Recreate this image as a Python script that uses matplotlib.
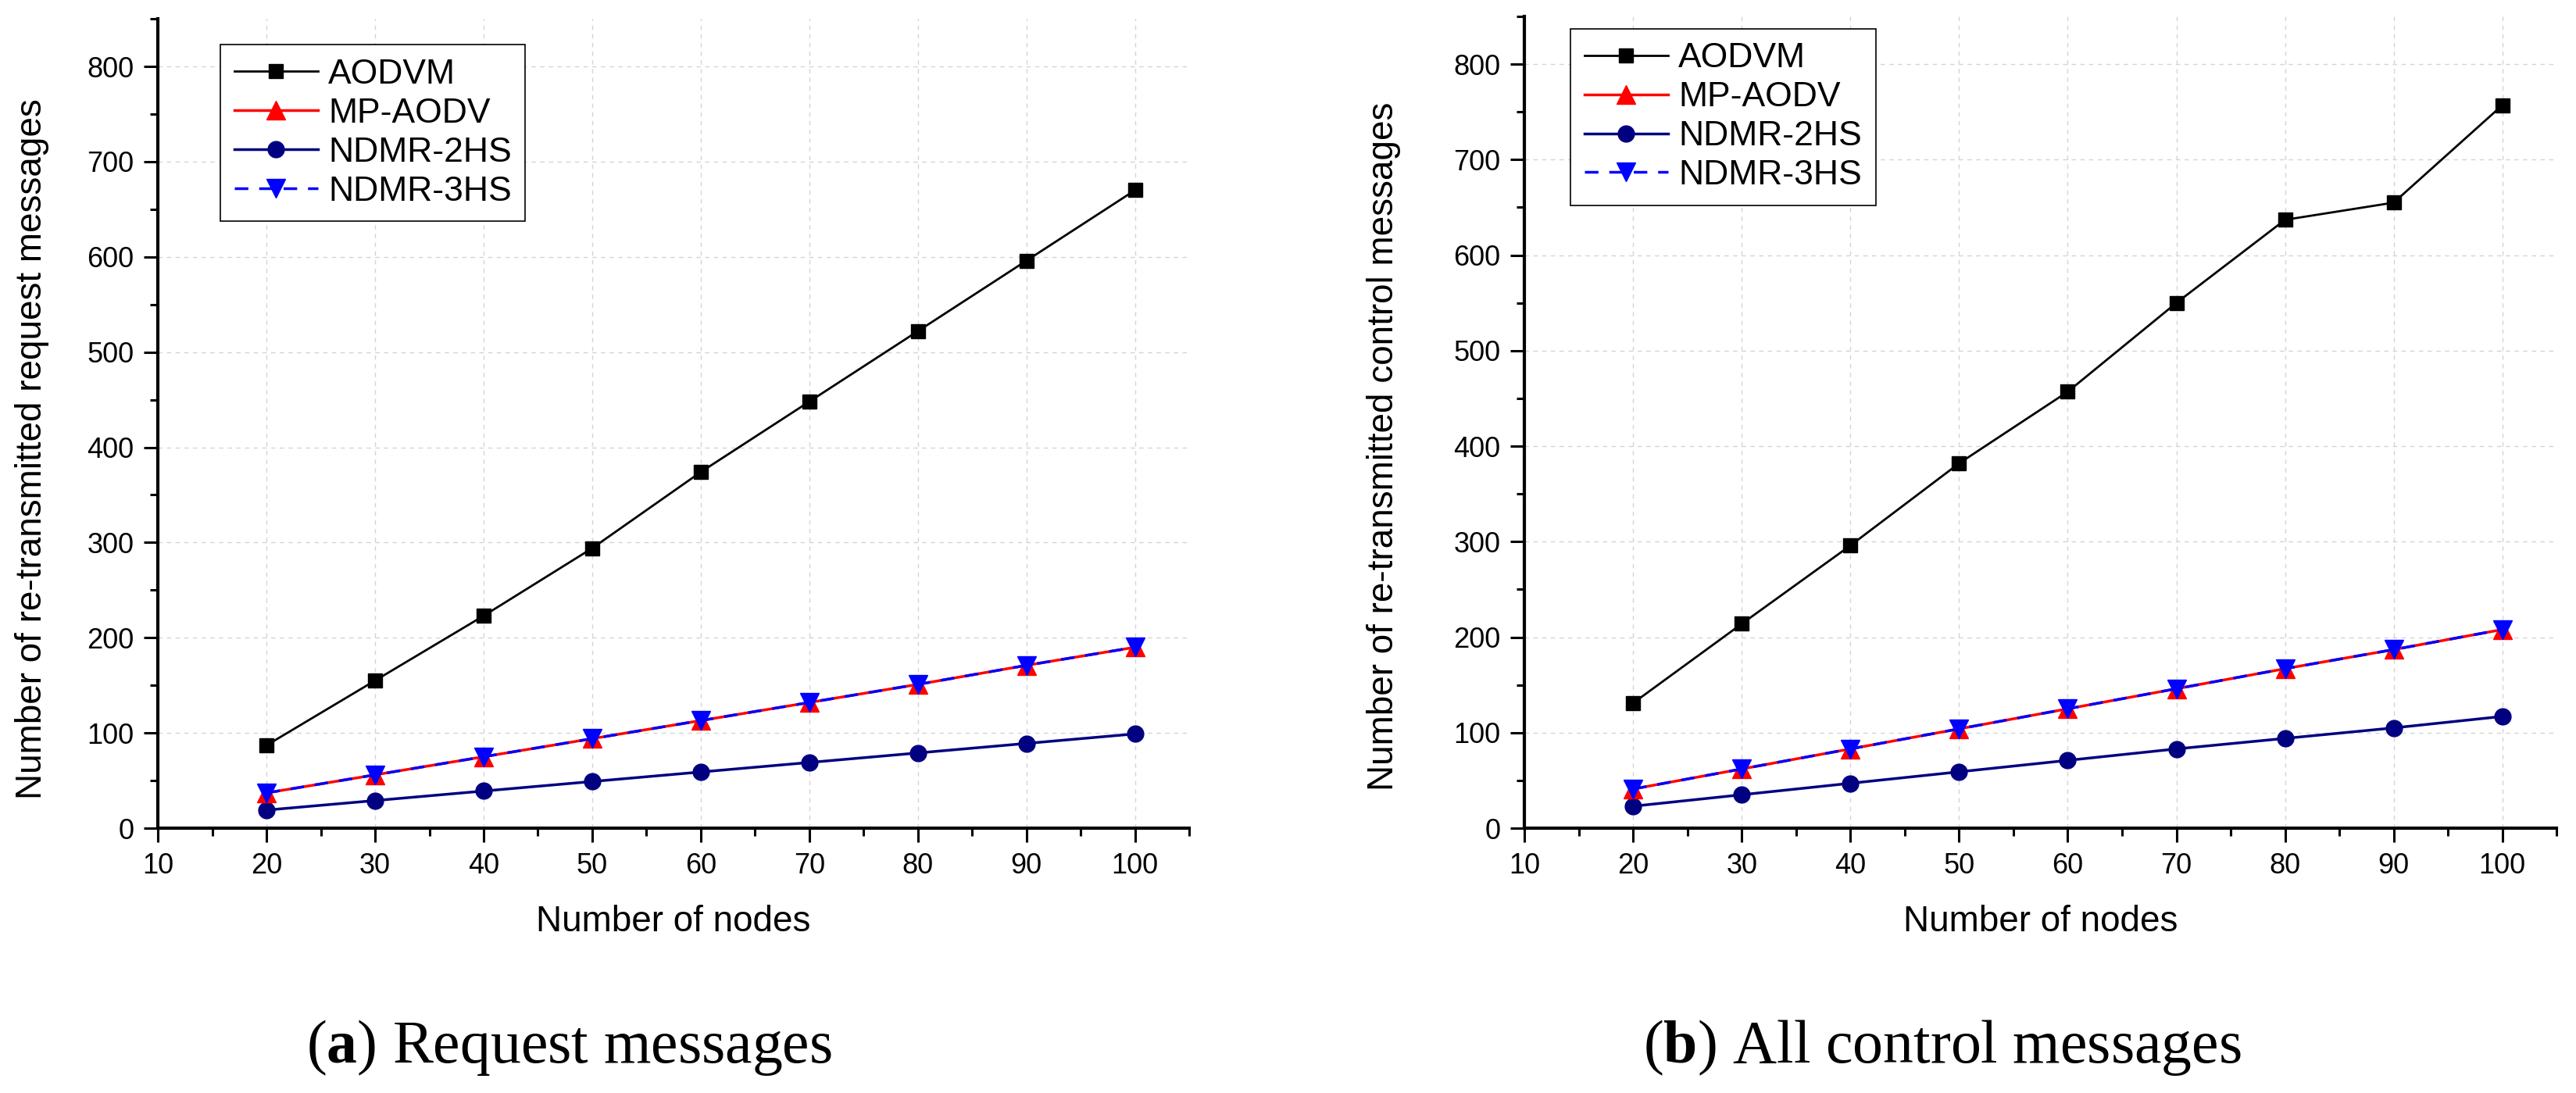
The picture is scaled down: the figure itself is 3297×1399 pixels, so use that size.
import matplotlib
matplotlib.use("Agg")
import matplotlib.pyplot as plt
from matplotlib.ticker import MultipleLocator

plt.rcParams['font.family'] = ['Liberation Sans', 'DejaVu Sans']
plt.rcParams['mathtext.fontset'] = 'custom'
plt.rcParams['mathtext.rm'] = 'Liberation Serif'
plt.rcParams['mathtext.bf'] = 'Liberation Serif:bold'

nodes = [20, 30, 40, 50, 60, 70, 80, 90, 100]

# (a) request messages
req_aodvm = [87, 155, 223, 294, 374, 448, 522, 596, 670]
req_mpaodv = [37, 56, 75, 94, 113, 132, 151, 171, 190]
req_ndmr2 = [19, 29, 39, 49, 59, 69, 79, 89, 99]
req_ndmr3 = [37, 56, 75, 94, 113, 132, 151, 171, 190]

# (b) all control messages
ctl_aodvm = [131, 214, 296, 382, 457, 550, 637, 655, 757]
ctl_mpaodv = [41, 62, 83, 104, 125, 146, 167, 187, 208]
ctl_ndmr2 = [23, 35, 47, 59, 71, 83, 94, 105, 117]
ctl_ndmr3 = [41, 62, 83, 104, 125, 146, 167, 187, 208]

series_names = ["AODVM", "MP-AODV", "NDMR-2HS", "NDMR-3HS"]
ylabels = ["Number of re-transmitted request messages",
           "Number of re-transmitted control messages"]
captions = [r"($\mathbf{a}$) Request messages",
            r"($\mathbf{b}$) All control messages"]

fig = plt.figure(figsize=(32.97, 13.99), dpi=100)
ax1 = fig.add_axes([0.0613, 0.2423, 0.4004, 0.7405])
ax2 = fig.add_axes([0.5918, 0.2423, 0.4007, 0.7427])

panels = [
    (ax1, [req_aodvm, req_mpaodv, req_ndmr2, req_ndmr3], (0.0606, 0.968)),
    (ax2, [ctl_aodvm, ctl_mpaodv, ctl_ndmr2, ctl_ndmr3], (0.0447, 0.985)),
]

for i, (ax, data, leg_pos) in enumerate(panels):
    ax.plot(nodes, data[0], color="black", lw=2, marker="s", ms=13,
            label=series_names[0], zorder=3)
    ax.plot(nodes, data[1], color="#ff0000", lw=2.5, marker="^", ms=17,
            label=series_names[1], zorder=4)
    ax.plot(nodes, data[2], color="#000080", lw=2.5, marker="o", ms=15,
            label=series_names[2], zorder=3)
    ax.plot(nodes, data[3], color="#0000ff", lw=2.5, ls=(0, (5, 4)),
            marker="v", ms=17, label=series_names[3], zorder=5)

    ax.set_xlim(10, 105)
    ax.set_ylim(0, 850)
    ax.xaxis.set_major_locator(MultipleLocator(10))
    ax.xaxis.set_minor_locator(MultipleLocator(5))
    ax.yaxis.set_major_locator(MultipleLocator(100))
    ax.yaxis.set_minor_locator(MultipleLocator(50))

    for side in ["top", "right"]:
        ax.spines[side].set_visible(False)
    for side in ["left", "bottom"]:
        ax.spines[side].set_linewidth(3)

    ax.tick_params(which="major", direction="out", length=13, width=2.2,
                   labelsize=26, pad=9)
    ax.tick_params(which="minor", direction="out", length=7, width=2.2)

    ax.grid(True, which="major", color="#d4d4d4", lw=1, ls=(0, (4, 4)))
    ax.set_axisbelow(True)

    ax.set_xlabel("Number of nodes", fontsize=33)
    ax.set_ylabel(ylabels[i], fontsize=33)
    ax.xaxis.set_label_coords(0.5, -0.0945)

    leg = ax.legend(loc="upper left", bbox_to_anchor=leg_pos, borderaxespad=0,
                    fontsize=32, handlelength=2.4, handletextpad=0.3,
                    labelspacing=0.2, borderpad=0.4, fancybox=False,
                    framealpha=1, edgecolor="black")
    leg.get_frame().set_linewidth(1.2)

ax1.yaxis.set_label_coords(-0.1053, 0.469)
ax2.yaxis.set_label_coords(-0.1196, 0.470)

fig.text(0.2208, 0.0279, captions[0], fontsize=56, ha="center",
         va="baseline", family="Liberation Serif")
fig.text(0.754, 0.0279, captions[1], fontsize=56, ha="center",
         va="baseline", family="Liberation Serif")

fig.savefig("out.png", dpi=100)
